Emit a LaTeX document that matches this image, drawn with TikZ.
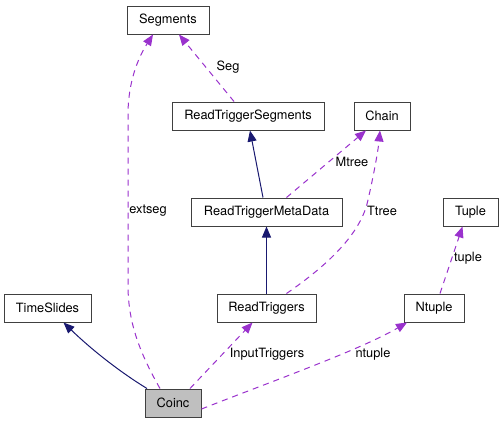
\documentclass[tikz,border=0pt]{standalone}
\usepackage{fontspec}
\setmainfont{TeX Gyre Heros}
\usetikzlibrary{arrows.meta}
\definecolor{edgepurple}{HTML}{9A32CD}
\definecolor{edgenavy}{HTML}{191970}
\definecolor{boxborder}{HTML}{404040}
\definecolor{coincfill}{HTML}{BFBFBF}
\begin{document}
\begin{tikzpicture}[x=1pt,y=-1pt,
  cls/.style={draw=boxborder,line width=1pt,fill=white,minimum height=28pt,inner sep=0pt,
    font=\fontsize{12.8}{15}\selectfont},
  usage/.style={draw=edgepurple,line width=1pt,dash pattern=on 6pt off 5pt,
    -{Triangle[length=11pt,width=9pt,fill=edgepurple]}},
  inh/.style={draw=edgenavy,line width=1pt,
    -{Triangle[length=11pt,width=9pt,fill=edgenavy]}},
  lbl/.style={inner sep=0pt,font=\fontsize{12.8}{15}\selectfont}]
\useasboundingbox[fill=white] (0,0) rectangle (503,424);

\node[cls,minimum width=82pt]  (segments)   at (168,20)    {Segments};
\node[cls,minimum width=152pt] (rts)        at (248,116)   {ReadTriggerSegments};
\node[cls,minimum width=56pt]  (chain)      at (382,116)   {Chain};
\node[cls,minimum width=151pt] (rtmd)       at (266.5,212) {ReadTriggerMetaData};
\node[cls,minimum width=55pt]  (tuple)      at (470.5,212) {Tuple};
\node[cls,minimum width=87pt]  (timeslides) at (47.5,308)  {TimeSlides};
\node[cls,minimum width=99pt]  (rt)         at (266.5,308) {ReadTriggers};
\node[cls,minimum width=60pt]  (ntuple)     at (434,308)   {Ntuple};
\node[cls,minimum width=56pt,fill=coincfill] (coinc) at (173,403) {Coinc};

% edges
\draw[usage] ([xshift=-13pt]coinc.north) .. controls (138,350) and (128,320) .. (128,285)
   -- (128,115) .. controls (128,82) and (138,58) .. ([xshift=-15pt]segments.south);
\draw[usage] ([xshift=-14pt]rts.north) -- ([xshift=11pt]segments.south);
\draw[inh] ([xshift=-3.5pt]rtmd.north) -- ([xshift=2pt]rts.south);
\draw[usage] ([xshift=20pt]rtmd.north) -- ([xshift=-16pt]chain.south);
\draw[inh] (rt.north) -- (rtmd.south);
\draw[usage] ([xshift=20pt]rt.north) .. controls (338,258) and (362,228) .. (368,200)
   .. controls (373,178) and (378,152) .. ([xshift=-2pt]chain.south);
\draw[usage] ([xshift=6pt]ntuple.north) -- ([xshift=-8pt]tuple.south);
\draw[inh] ([xshift=-26pt]coinc.north) .. controls (120,372) and (92,350) .. ([xshift=16pt]timeslides.south);
\draw[usage] ([xshift=17pt]coinc.north) -- ([xshift=-14pt]rt.south);
\draw[usage] ([yshift=-6pt]coinc.east) .. controls (270,382) and (360,350) .. ([xshift=-27pt]ntuple.south);

% labels
\node[lbl] (lseg)    at (228,67)  {Seg};
\node[lbl] (lmtree)  at (352,162) {Mtree};
\node[lbl] (lextseg) at (148,211) {extseg};
\node[lbl] (lttree)  at (382,211) {Ttree};
\node[lbl] (ltuple)  at (468,258) {tuple};
\node[lbl] (linput)  at (267,354) {InputTriggers};
\node[lbl] (lntuple) at (373,354) {ntuple};
\end{tikzpicture}
\end{document}
